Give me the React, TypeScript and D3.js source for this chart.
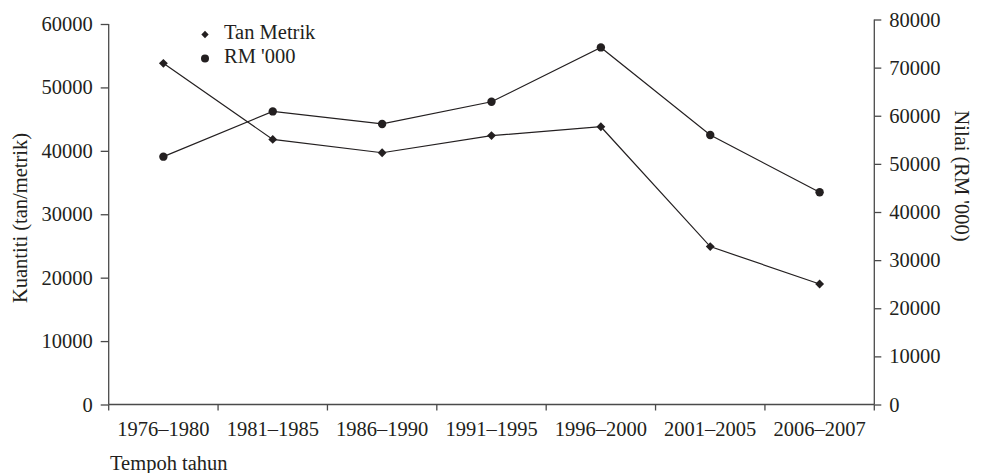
import { useEffect, useRef } from "react";
import * as d3 from "d3";

const periods = [
  "1976–1980",
  "1981–1985",
  "1986–1990",
  "1991–1995",
  "1996–2000",
  "2001–2005",
  "2006–2007",
];
const tanMetrik = [53800, 41800, 39700, 42400, 43800, 24900, 19000];
const rmValue = [51500, 60900, 58300, 62900, 74200, 56000, 44100];
const leftTicks = [0, 10000, 20000, 30000, 40000, 50000, 60000];
const rightTicks = [0, 10000, 20000, 30000, 40000, 50000, 60000, 70000, 80000];

const FONT = "'Liberation Serif', 'Times New Roman', serif";
const FS = 20.5;
const INK = "#231f20";

const App = () => {
  const svgRef = useRef<SVGSVGElement>(null);

  useEffect(() => {
    const svg = d3.select(svgRef.current);
    svg.selectAll("*").remove();

    const x0 = 108.7;
    const x1 = 874.3;
    const yBase = 404.5;

    const xScale = d3.scaleBand<string>().domain(periods).range([x0, x1]).padding(0);
    const yLeft = d3.scaleLinear().domain([0, 60000]).range([yBase, 24]);
    const yRight = d3.scaleLinear().domain([0, 80000]).range([yBase, 19.5]);
    const cx = (d: string) => (xScale(d) ?? 0) + xScale.bandwidth() / 2;

    const axisColor = "#4a4a4a";

    // left axis
    const gl = svg.append("g").attr("transform", `translate(${x0},0)`);
    gl.call(d3.axisLeft(yLeft).tickValues(leftTicks).tickSize(8).tickPadding(8).tickFormat(d3.format("d")));

    // right axis
    const gr = svg.append("g").attr("transform", `translate(${x1},0)`);
    gr.call(d3.axisRight(yRight).tickValues(rightTicks).tickSize(7).tickPadding(8).tickFormat(d3.format("d")));

    // x axis, labels sit between the boundary ticks
    const gx = svg.append("g").attr("transform", `translate(0,${yBase})`);
    gx.call(d3.axisBottom(xScale).tickSize(0).tickPadding(31.5));
    gx.selectAll(".tick text").attr("dy", 0);
    const bounds = periods.map((p) => xScale(p) ?? 0).concat([x1]);
    gx.selectAll(".bound")
      .data(bounds)
      .enter()
      .append("line")
      .attr("x1", (d) => d)
      .attr("x2", (d) => d)
      .attr("y1", 0)
      .attr("y2", 6)
      .attr("stroke", axisColor)
      .attr("stroke-width", 1.3);

    [gl, gr, gx].forEach((g) => {
      g.attr("font-family", FONT);
      g.selectAll(".domain").attr("stroke", axisColor).attr("stroke-width", 1.3);
      g.selectAll(".tick line").attr("stroke", axisColor).attr("stroke-width", 1.3);
      g.selectAll("text")
        .style("font-family", FONT)
        .attr("font-size", FS)
        .attr("fill", INK);
    });
    gl.select(".domain").attr("d", `M0,${yLeft(60000)}V${yBase}`);
    gr.select(".domain").attr("d", `M0,${yRight(80000)}V${yBase}`);
    gx.select(".domain").attr("d", `M${x0},0H${x1}`);

    // lines
    const lineLeft = d3
      .line<number>()
      .x((_, i) => cx(periods[i]))
      .y((d) => yLeft(d));
    const lineRight = d3
      .line<number>()
      .x((_, i) => cx(periods[i]))
      .y((d) => yRight(d));

    svg
      .append("path")
      .attr("d", lineLeft(tanMetrik))
      .attr("fill", "none")
      .attr("stroke", INK)
      .attr("stroke-width", 1.2);
    svg
      .append("path")
      .attr("d", lineRight(rmValue))
      .attr("fill", "none")
      .attr("stroke", INK)
      .attr("stroke-width", 1.2);

    const diamond = d3.symbol().type(d3.symbolDiamond2).size(50);
    svg
      .selectAll(".dia")
      .data(tanMetrik)
      .enter()
      .append("path")
      .attr("d", diamond)
      .attr("transform", (d, i) => `translate(${cx(periods[i])},${yLeft(d)})`)
      .attr("fill", INK);

    svg
      .selectAll(".dot")
      .data(rmValue)
      .enter()
      .append("circle")
      .attr("cx", (_, i) => cx(periods[i]))
      .attr("cy", (d) => yRight(d))
      .attr("r", 4.2)
      .attr("fill", INK);

    // legend
    const legend = svg.append("g");
    legend
      .append("path")
      .attr("d", d3.symbol().type(d3.symbolDiamond2).size(34)())
      .attr("transform", "translate(205,34.5)")
      .attr("fill", INK);
    legend.append("circle").attr("cx", 205).attr("cy", 58.5).attr("r", 4).attr("fill", INK);
    legend
      .selectAll("text")
      .data(["Tan Metrik", "RM '000"])
      .enter()
      .append("text")
      .attr("x", 224)
      .attr("y", (_, i) => 38.5 + i * 24)
      .style("font-family", FONT)
      .attr("font-size", FS)
      .attr("fill", INK)
      .text((d) => d);

    // axis titles
    svg
      .append("text")
      .attr("transform", "translate(27,218) rotate(-90)")
      .attr("text-anchor", "middle")
      .style("font-family", FONT)
      .attr("font-size", FS)
      .attr("fill", INK)
      .text("Kuantiti (tan/metrik)");
    svg
      .append("text")
      .attr("transform", "translate(955,176) rotate(90)")
      .attr("text-anchor", "middle")
      .style("font-family", FONT)
      .attr("font-size", FS)
      .attr("fill", INK)
      .text("Nilai (RM '000)");
    svg
      .append("text")
      .attr("x", 110)
      .attr("y", 469.5)
      .style("font-family", FONT)
      .attr("font-size", FS)
      .attr("fill", INK)
      .text("Tempoh tahun");
  }, []);

  return (
    <svg
      ref={svgRef}
      width={981}
      height={473}
      style={{ position: "absolute", left: 0, top: 0, background: "#fff" }}
    ></svg>
  );
};

export default App;
